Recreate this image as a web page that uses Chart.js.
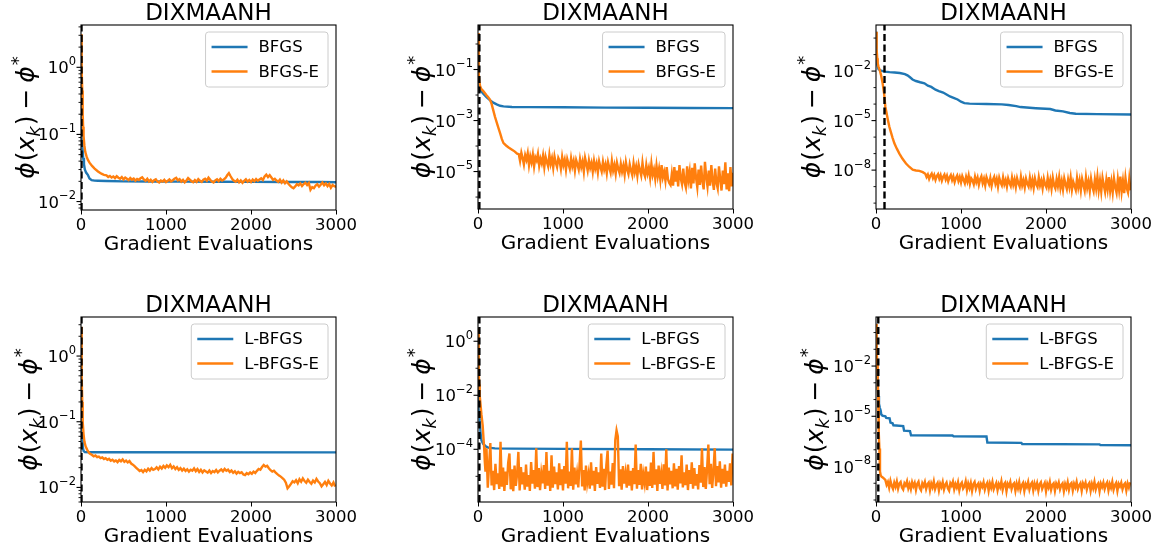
<!DOCTYPE html>
<html>
<head>
<meta charset="utf-8">
<script src="https://cdn.jsdelivr.net/npm/chart.js@4.4.0/dist/chart.umd.min.js"></script>
<style>
  body { margin: 0; background: #fff; }
  #figure { position: relative; width: 1161px; height: 553px; }
  #figure canvas { position: absolute; }
</style>
</head>
<body>
<div id="figure">
  <canvas id="c1" width="390" height="276" style="left:0;top:0"></canvas>
  <canvas id="c2" width="380" height="276" style="left:390px;top:0"></canvas>
  <canvas id="c3" width="391" height="276" style="left:770px;top:0"></canvas>
  <canvas id="c4" width="390" height="277" style="left:0;top:276px"></canvas>
  <canvas id="c5" width="380" height="277" style="left:390px;top:276px"></canvas>
  <canvas id="c6" width="391" height="277" style="left:770px;top:276px"></canvas>
</div>
<script>
// ---- top left: BFGS / BFGS-E ----
const tlBlueX = [0, 4, 8, 15, 25, 35, 45, 60, 80, 100, 125, 160, 200, 300, 500, 800, 1200, 1600, 2000, 2400, 2800, 3000];
const tlBlueY = [3.1, 0.5, 0.12, 0.07, 0.045, 0.036, 0.030, 0.027, 0.025, 0.022, 0.0208, 0.0205, 0.0204, 0.0202, 0.0200, 0.0199, 0.0198, 0.0197, 0.0196, 0.0195, 0.0195, 0.0194];
const tlOrangeX = [0, 5, 10, 15, 20, 25, 30, 40, 50, 65, 80, 100, 130, 160, 200, 240, 270];
const tlOrangeY = [3.1, 2.0, 0.9, 0.45, 0.2, 0.13, 0.095, 0.068, 0.055, 0.047, 0.042, 0.038, 0.034, 0.031, 0.028, 0.026, 0.025];
// every 20 evaluations from 300
const tlOrangeTail = [
  .0246, .0232, .0241, .0228, .0236, .0223, .0238, .0226, .0219, .0231,
  .0214, .0227, .0218, .0209, .0224, .0212, .0220, .0205, .0217, .0210,
  .0222, .0229, .0213, .0204, .0218, .0200, .0211, .0196, .0208, .0215,
  .0198, .0192, .0206, .0199, .0211, .0195, .0203, .0214, .0200, .0208,
  .0219, .0226, .0207, .0215, .0198, .0210, .0193, .0206, .0224, .0212,
  .0201, .0194, .0209, .0197, .0215, .0203, .0196, .0212, .0219, .0205,
  .0227, .0211, .0199, .0192, .0207, .0214, .0201, .0218, .0206, .0213,
  .0224, .0246, .0265, .0238, .0216, .0204, .0197, .0211, .0193, .0206,
  .0190, .0203, .0214, .0198, .0209, .0195, .0212, .0201, .0216, .0204,
  .0213, .0222, .0209, .0236, .0252, .0231, .0247, .0228, .0210, .0218,
  .0205, .0197, .0212, .0191, .0206, .0187, .0200, .0184, .0172, .0163,
  .0158, .0168, .0181, .0174, .0186, .0170, .0182, .0191, .0176, .0189,
  .0150, .0164, .0158, .0173, .0181, .0167, .0178, .0192, .0175, .0186,
  .0170, .0183, .0161, .0176, .0169, .0166
];

// ---- top middle ----
const tmBlueX = [0, 6, 12, 25, 45, 70, 100, 140, 180, 220, 260, 300, 400, 600, 1000, 1500, 2000, 2500, 3000];
const tmBlueY = [2.7, 0.3, 0.022, 0.0165, 0.013, 0.0105, 0.0082, 0.0063, 0.0050, 0.0043, 0.0038, 0.0036, 0.0034, 0.00335, 0.0033, 0.0032, 0.00315, 0.0031, 0.00305];
const tmOrangeX = [0, 5, 10, 15, 25, 40, 60, 80, 100, 120, 140, 160, 180, 200, 220, 240, 260, 280, 300, 330, 360, 400, 430, 460];
const tmOrangeY = [2.7, 0.5, 0.08, 0.035, 0.022, 0.017, 0.0145, 0.012, 0.0098, 0.0082, 0.0066, 0.0045, 0.0025, 0.0014, 8.5e-4, 5.2e-4, 3.2e-4, 1.9e-4, 1.3e-4, 1.05e-4, 8.8e-5, 7.2e-5, 6.2e-5, 5.0e-5];
// every 15 evaluations from 480
const tmOrangeTail = [
  4.8e-5, 2.6e-5, 5.5e-5, 3.4e-5, 1.9e-5, 4.4e-5, 2.9e-5, 5.2e-5, 1.8e-5, 3.9e-5,
  2.3e-5, 4.6e-5, 1.6e-5, 3.6e-5, 2.7e-5, 4.9e-5, 1.7e-5, 3.2e-5, 2.1e-5, 4.2e-5,
  1.5e-5, 3.8e-5, 2.4e-5, 1.6e-5, 4.5e-5, 2.0e-5, 3.3e-5, 1.4e-5, 3.9e-5, 2.2e-5,
  1.5e-5, 3.4e-5, 2.6e-5, 1.3e-5, 3.7e-5, 1.8e-5, 2.9e-5, 1.2e-5, 3.1e-5, 2.0e-5,
  1.3e-5, 3.3e-5, 1.6e-5, 2.6e-5, 1.1e-5, 2.8e-5, 1.9e-5, 1.2e-5, 3.0e-5, 1.5e-5,
  2.5e-5, 1.0e-5, 3.4e-5, 2.0e-5, 1.1e-5, 2.7e-5, 1.4e-5, 2.2e-5, 9.8e-6, 2.6e-5,
  1.3e-5, 2.1e-5, 9.2e-6, 2.5e-5, 1.5e-5, 1.0e-5, 2.4e-5, 1.2e-5, 1.9e-5, 8.6e-6,
  2.3e-5, 1.4e-5, 9.0e-6, 2.6e-5, 1.1e-5, 1.8e-5, 8.2e-6, 2.2e-5, 1.3e-5, 8.8e-6,
  2.0e-5, 1.0e-5, 1.7e-5, 7.6e-6, 2.3e-5, 1.2e-5, 8.0e-6, 1.9e-5, 1.1e-5, 7.2e-6,
  2.1e-5, 9.4e-6, 1.6e-5, 6.8e-6, 1.9e-5, 1.1e-5, 7.0e-6, 2.2e-5, 9.0e-6, 6.4e-6,
  1.8e-5, 8.4e-6, 1.4e-5, 5.8e-6, 2.0e-5, 7.4e-6, 1.2e-5, 5.2e-6, 1.7e-5, 6.6e-6,
  1.3e-5, 4.8e-6, 1.8e-5, 6.0e-6, 9.6e-6, 4.4e-6, 1.5e-5, 5.0e-6, 3.6e-6, 3.0e-6,
  8.0e-6, 2.8e-6, 1.5e-5, 4.0e-6, 1.1e-5, 2.6e-6, 1.8e-5, 5.4e-6, 3.2e-6, 1.3e-5,
  3.8e-6, 2.4e-6, 1.6e-5, 4.6e-6, 1.0e-5, 2.2e-6, 1.4e-5, 3.4e-6, 2.1e-5, 5.6e-6,
  2.4e-6, 1.2e-5, 3.0e-6, 1.7e-5, 4.2e-6, 2.0e-6, 2.4e-5, 6.2e-6, 2.6e-6, 1.1e-5,
  2.8e-6, 1.8e-5, 4.4e-6, 1.9e-6, 1.3e-5, 3.6e-6, 2.2e-6, 1.6e-5, 5.0e-6, 1.8e-6,
  1.1e-5, 3.2e-6, 2.3e-5, 2.0e-6, 8.6e-6, 1.7e-6, 1.5e-5, 2.6e-6, 9.0e-6
];

// ---- top right ----
const trBlueX = [0, 4, 8, 15, 30, 60, 100, 160, 220, 280, 340, 370, 400, 430, 470, 520, 570, 610, 650, 700, 740, 790, 830, 870, 920, 960, 1000, 1040, 1100, 1300, 1480, 1560, 1650, 1700, 1880, 2050, 2110, 2200, 2280, 2350, 2600, 3000];
const trBlueY = [2.4, 0.5, 0.08, 0.025, 0.013, 0.0105, 0.0092, 0.0086, 0.0082, 0.0076, 0.0066, 0.0055, 0.0042, 0.0031, 0.0025, 0.0021, 0.0018, 0.0013, 0.0011, 7.5e-4, 6.2e-4, 5.0e-4, 3.8e-4, 2.9e-4, 2.3e-4, 1.9e-4, 1.4e-4, 1.15e-4, 1.07e-4, 1.02e-4, 9.6e-5, 8.8e-5, 7.5e-5, 6.6e-5, 5.6e-5, 5.0e-5, 4.1e-5, 3.6e-5, 2.9e-5, 2.6e-5, 2.45e-5, 2.35e-5];
const trOrangeX = [0, 5, 10, 15, 20, 30, 45, 60, 78, 95, 110, 125, 140, 157, 175, 195, 216, 245, 275, 310, 353, 390, 431, 470, 510, 550];
const trOrangeY = [2.4, 0.8, 0.2, 0.06, 0.03, 0.018, 0.011, 0.0055, 0.0018, 4.5e-4, 7e-5, 2.8e-5, 1.1e-5, 4.2e-6, 2.0e-6, 9e-7, 4.2e-7, 2.0e-7, 1.0e-7, 5e-8, 2.5e-8, 1.6e-8, 1.05e-8, 9.5e-9, 9e-9, 7.5e-9];
// every 15 evaluations from 580
const trOrangeTail = [
  6.0e-9, 3.8e-9, 5.4e-9, 2.9e-9, 4.7e-9, 6.2e-9, 3.3e-9, 5.1e-9, 2.6e-9, 4.4e-9,
  5.7e-9, 3.0e-9, 4.9e-9, 2.3e-9, 3.9e-9, 5.3e-9, 2.7e-9, 4.5e-9, 2.1e-9, 3.6e-9,
  5.0e-9, 2.5e-9, 4.2e-9, 1.9e-9, 3.4e-9, 4.8e-9, 2.2e-9, 3.8e-9, 1.8e-9, 4.3e-9,
  2.6e-9, 1.6e-9, 3.9e-9, 2.0e-9, 4.6e-9, 1.5e-9, 3.2e-9, 2.4e-9, 1.4e-9, 4.0e-9,
  1.9e-9, 3.5e-9, 1.3e-9, 2.8e-9, 4.2e-9, 1.6e-9, 3.0e-9, 1.2e-9, 3.7e-9, 2.2e-9,
  1.4e-9, 3.3e-9, 1.1e-9, 2.6e-9, 3.9e-9, 1.5e-9, 2.9e-9, 1.0e-9, 3.4e-9, 1.8e-9,
  1.2e-9, 3.6e-9, 1.4e-9, 2.5e-9, 1.0e-9, 3.1e-9, 1.7e-9, 1.1e-9, 3.5e-9, 1.3e-9,
  2.7e-9, 9.5e-10, 3.2e-9, 1.6e-9, 1.0e-9, 3.8e-9, 1.2e-9, 2.4e-9, 9.0e-10, 3.0e-9,
  1.5e-9, 1.0e-9, 3.4e-9, 1.1e-9, 2.6e-9, 8.5e-10, 3.1e-9, 1.4e-9, 9.5e-10, 3.6e-9,
  1.2e-9, 2.3e-9, 8.0e-10, 2.9e-9, 1.3e-9, 8.8e-10, 3.3e-9, 1.0e-9, 2.5e-9, 7.5e-10,
  3.4e-9, 1.2e-9, 7.8e-10, 2.8e-9, 1.1e-9, 3.7e-9, 8.2e-10, 2.2e-9, 6.8e-10, 3.1e-9,
  1.4e-9, 7.2e-10, 2.6e-9, 9.5e-10, 3.5e-9, 6.5e-10, 2.0e-9, 1.1e-9, 6.2e-10, 3.2e-9,
  9.0e-10, 2.4e-9, 6.0e-10, 2.9e-9, 1.3e-9, 5.8e-10, 3.6e-9, 8.5e-10, 2.1e-9, 5.5e-10,
  3.0e-9, 1.0e-9, 5.2e-10, 2.7e-9, 7.8e-10, 3.9e-9, 6.0e-10, 2.3e-9, 5.0e-10, 3.3e-9,
  1.2e-9, 4.8e-10, 2.5e-9, 7.0e-10, 3.7e-9, 5.4e-10, 2.0e-9, 4.5e-10, 3.1e-9, 9.0e-10,
  4.2e-10, 2.8e-9, 6.4e-10, 4.0e-9, 5.0e-10, 2.2e-9, 4.0e-10, 3.4e-9, 8.0e-10, 4.4e-10,
  3.0e-9, 6.0e-10
];

// ---- bottom left: L-BFGS / L-BFGS-E ----
const blBlueX = [0, 4, 8, 14, 20, 30, 45, 100, 3000];
const blBlueY = [2.8, 0.6, 0.12, 0.062, 0.042, 0.036, 0.0345, 0.0344, 0.0342];
const blOrangeX = [0, 5, 10, 15, 20, 30, 40, 55, 75, 100];
const blOrangeY = [2.8, 1.2, 0.5, 0.2, 0.1, 0.065, 0.05, 0.042, 0.037, 0.033];
// every 20 evaluations from 130
const blOrangeTail = [
  .0312, .0298, .0306, .0289, .0295, .0280, .0286, .0271, .0279, .0263,
  .0272, .0255, .0264, .0249, .0258, .0243, .0262, .0250, .0267, .0245,
  .0256, .0240, .0252, .0231, .0222, .0211, .0199, .0188, .0178, .0184,
  .0171, .0186, .0176, .0193, .0181, .0197, .0185, .0190, .0202, .0188,
  .0207, .0194, .0212, .0199, .0216, .0203, .0221, .0196, .0209, .0190,
  .0203, .0185, .0197, .0181, .0193, .0178, .0189, .0174, .0186, .0180,
  .0195, .0177, .0190, .0172, .0185, .0169, .0182, .0175, .0168, .0181,
  .0166, .0178, .0171, .0184, .0169, .0180, .0188, .0176, .0191, .0179,
  .0186, .0172, .0181, .0167, .0176, .0162, .0173, .0165, .0170, .0157,
  .0154, .0165, .0159, .0169, .0161, .0174, .0166, .0179, .0191, .0186,
  .0204, .0219, .0208, .0214, .0196, .0183, .0174, .0180, .0168, .0159,
  .0152, .0146, .0139, .0131, .0118, .0097, .0104, .0113, .0124, .0119,
  .0129, .0116, .0133, .0122, .0137, .0125, .0118, .0131, .0121, .0114,
  .0127, .0119, .0135, .0123, .0116, .0104, .0112, .0121, .0109, .0126,
  .0115, .0107, .0119, .0103
];

// ---- bottom middle ----
const bmBlueX = [0, 5, 10, 20, 30, 40, 60, 90, 120, 200, 400, 1000, 2000, 3000];
const bmBlueY = [3.0, 0.2, 0.01, 1.2e-3, 4e-4, 2.2e-4, 1.6e-4, 1.3e-4, 1.15e-4, 1.08e-4, 1.06e-4, 1.04e-4, 1.0e-4, 9.7e-5];
const bmOrangeX = [0, 5, 10, 15, 20, 30, 40, 55, 65, 72, 80, 88];
const bmOrangeY = [3.0, 0.5, 0.08, 0.025, 0.01, 4.5e-3, 2.0e-3, 7.7e-4, 2.5e-4, 1.2e-4, 3.5e-5, 1.5e-5];
// every 15 evaluations from 100
const bmOrangeTail = [
  1.1e-4, 3.8e-6, 2.4e-5, 1.7e-4, 4.6e-6, 1.6e-5, 3.1e-6, 2.9e-5, 5.2e-6, 1.3e-5,
  3.4e-6, 1.9e-4, 4.1e-6, 2.1e-5, 2.9e-6, 1.5e-5, 4.8e-6, 3.2e-5, 7.0e-5, 3.3e-6,
  1.8e-5, 2.8e-6, 2.5e-5, 4.4e-6, 1.2e-5, 8.0e-5, 3.0e-6, 2.2e-5, 5.0e-6, 1.4e-5,
  3.2e-6, 2.7e-5, 4.2e-6, 1.1e-5, 2.9e-6, 3.4e-5, 5.4e-6, 1.7e-5, 3.5e-6, 1.1e-4,
  4.0e-6, 2.0e-5, 3.1e-6, 1.3e-5, 5.5e-6, 2.6e-5, 3.4e-6, 8.0e-5, 4.5e-6, 1.6e-5,
  2.9e-6, 6.0e-5, 3.8e-6, 2.3e-5, 5.1e-6, 1.4e-5, 3.3e-6, 3.0e-5, 4.7e-6, 1.8e-5,
  3.0e-6, 2.4e-5, 5.3e-6, 1.9e-4, 3.6e-6, 1.5e-5, 4.4e-6, 1.1e-4, 3.2e-6, 2.1e-5,
  5.0e-6, 1.3e-5, 3.9e-6, 2.8e-5, 2.1e-4, 4.2e-6, 1.7e-5, 3.0e-6, 2.5e-5, 5.6e-6,
  1.2e-5, 3.5e-6, 3.3e-5, 4.6e-6, 1.6e-5, 2.9e-6, 2.2e-5, 5.2e-6, 1.4e-5, 3.7e-6,
  7.0e-5, 4.1e-6, 1.9e-5, 3.1e-6, 2.6e-5, 9.0e-5, 3.4e-6, 1.5e-5, 4.9e-6, 3.1e-5,
  3.6e-6, 2.2e-4, 5.0e-4, 3.0e-4, 4.3e-6, 1.8e-5, 3.2e-6, 2.4e-5, 5.4e-6, 1.3e-5,
  3.8e-6, 2.7e-5, 4.5e-6, 1.6e-5, 3.0e-6, 2.0e-5, 5.1e-6, 1.5e-4, 3.5e-6, 1.7e-5,
  4.8e-6, 2.9e-5, 3.3e-6, 1.2e-5, 5.6e-6, 2.3e-5, 3.1e-6, 1.5e-5, 4.4e-6, 3.2e-5,
  3.7e-6, 8.0e-5, 4.9e-6, 1.8e-5, 2.9e-6, 2.5e-5, 5.3e-6, 1.3e-5, 3.4e-6, 2.8e-5,
  4.6e-6, 1.0e-4, 3.0e-6, 2.1e-5, 5.0e-6, 1.6e-5, 3.6e-6, 3.0e-5, 4.2e-6, 1.9e-5,
  3.2e-6, 2.4e-5, 5.5e-6, 6.0e-5, 3.9e-6, 1.4e-5, 4.7e-6, 2.7e-5, 3.1e-6, 1.7e-5,
  5.2e-6, 3.3e-5, 3.5e-6, 2.0e-5, 4.5e-6, 1.2e-5, 3.3e-6, 2.6e-5, 5.8e-6, 1.1e-4,
  4.0e-6, 2.2e-5, 3.4e-6, 1.8e-5, 1.5e-4, 5.1e-6, 2.9e-5, 3.7e-6, 1.5e-5, 1.1e-4,
  4.3e-6, 2.4e-5, 6.0e-6, 3.6e-5, 3.8e-6, 1.9e-5, 5.4e-6, 2.7e-5, 4.1e-6, 1.6e-5,
  6.2e-6, 3.0e-5, 4.6e-6, 7.0e-5
];

// ---- bottom right ----
const brBlueX = [0, 4, 8, 14, 20, 28, 35, 45, 55, 62, 75, 110, 120, 160, 170, 195, 205, 320, 330, 400, 412, 900, 912, 1300, 1310, 1710, 1720, 2630, 2640, 3000];
const brBlueY = [3.3, 0.3, 0.02, 2.5e-3, 7e-4, 1.6e-4, 5.6e-5, 3.2e-5, 2.2e-5, 1.3e-5, 1.1e-5, 1.0e-5, 8.0e-6, 7.5e-6, 4.2e-6, 3.8e-6, 2.9e-6, 2.6e-6, 1.4e-6, 1.3e-6, 7.4e-7, 7.1e-7, 6.4e-7, 6.2e-7, 2.7e-7, 2.6e-7, 2.2e-7, 2.1e-7, 1.9e-7, 1.85e-7];
const brOrangeX = [0, 5, 10, 15, 20, 25, 30, 35, 40, 47, 55, 67, 80, 95];
const brOrangeY = [3.3, 0.8, 0.1, 0.012, 1.7e-3, 1.5e-4, 1.2e-5, 1.0e-6, 1.2e-7, 5e-9, 3.0e-9, 2.4e-9, 2.2e-9, 1.9e-9];
// every 15 evaluations from 110
const brOrangeTail = [
  1.6e-9, 8.0e-10, 1.2e-9, 5.4e-10, 1.4e-9, 7.0e-10, 4.6e-10, 1.1e-9, 6.2e-10, 1.3e-9,
  4.8e-10, 9.6e-10, 1.2e-9, 5.6e-10, 4.2e-10, 1.0e-9, 7.4e-10, 1.3e-9, 5.0e-10, 8.8e-10,
  4.4e-10, 1.15e-9, 6.6e-10, 1.05e-9, 4.0e-10, 9.2e-10, 1.25e-9, 5.2e-10, 3.8e-10, 1.0e-9,
  6.8e-10, 1.2e-9, 4.6e-10, 8.6e-10, 1.1e-9, 3.9e-10, 9.8e-10, 5.8e-10, 1.3e-9, 4.5e-10,
  7.6e-10, 1.05e-9, 3.7e-10, 9.4e-10, 6.0e-10, 1.2e-9, 4.3e-10, 8.2e-10, 1.1e-9, 5.0e-10,
  3.6e-10, 1.0e-9, 7.2e-10, 1.25e-9, 4.4e-10, 9.0e-10, 5.6e-10, 1.15e-9, 3.8e-10, 8.4e-10,
  1.1e-9, 4.8e-10, 6.4e-10, 1.3e-9, 4.0e-10, 9.6e-10, 5.2e-10, 1.05e-9, 3.5e-10, 8.8e-10,
  1.2e-9, 4.6e-10, 7.8e-10, 1.0e-9, 3.7e-10, 9.2e-10, 6.2e-10, 1.15e-9, 4.2e-10, 8.0e-10,
  1.1e-9, 3.6e-10, 9.8e-10, 5.4e-10, 1.2e-9, 4.4e-10, 7.0e-10, 1.05e-9, 3.9e-10, 9.0e-10,
  5.8e-10, 1.3e-9, 4.1e-10, 8.6e-10, 1.1e-9, 3.4e-10, 9.4e-10, 6.6e-10, 1.2e-9, 4.5e-10,
  8.2e-10, 1.0e-9, 3.6e-10, 9.6e-10, 5.0e-10, 1.15e-9, 4.0e-10, 7.6e-10, 1.05e-9, 3.5e-10,
  9.0e-10, 6.0e-10, 1.2e-9, 4.3e-10, 8.4e-10, 1.1e-9, 3.8e-10, 9.8e-10, 5.4e-10, 1.0e-9,
  3.6e-10, 8.8e-10, 1.15e-9, 4.6e-10, 7.2e-10, 1.05e-9, 3.3e-10, 9.2e-10, 5.6e-10, 1.2e-9,
  4.1e-10, 8.0e-10, 1.0e-9, 3.6e-10, 9.6e-10, 6.2e-10, 1.1e-9, 4.4e-10, 7.8e-10, 1.0e-9,
  3.4e-10, 9.0e-10, 5.2e-10, 1.15e-9, 4.0e-10, 8.6e-10, 1.05e-9, 3.7e-10, 9.4e-10, 5.8e-10,
  1.2e-9, 4.5e-10, 7.4e-10, 1.0e-9, 3.5e-10, 9.8e-10, 6.4e-10, 1.1e-9, 4.2e-10, 8.2e-10,
  1.05e-9, 3.6e-10, 9.2e-10, 5.0e-10, 1.2e-9, 4.3e-10, 7.8e-10, 1.0e-9, 3.4e-10, 9.6e-10,
  6.0e-10, 1.1e-9, 4.6e-10, 8.4e-10, 1.15e-9, 3.8e-10, 9.0e-10, 5.4e-10, 1.2e-9, 4.1e-10,
  7.6e-10, 1.05e-9, 3.5e-10, 9.4e-10, 6.6e-10, 1.1e-9, 4.4e-10, 8.0e-10, 1.0e-9, 3.7e-10,
  9.8e-10, 5.6e-10, 1.15e-9
];

const FONT = '"DejaVu Sans", sans-serif';
const BLUE = '#1f77b4';
const ORANGE = '#ff7f0e';

function toPoints(xs, ys) {
  return xs.map((x, i) => ({ x: x, y: ys[i] }));
}
function tailPoints(start, step, ys) {
  return ys.map((y, i) => ({ x: start + i * step, y: y }));
}

function drawYLabel(ctx, cx, cy) {
  const s = 25;
  const up = s + 'px ' + FONT, it = 'italic ' + s + 'px ' + FONT;
  const small = Math.round(s * 0.7) + 'px ' + FONT, smallIt = 'italic ' + small;
  const parts = [
    { t: '\u03d5', f: it, dy: 0, gap: 0 },
    { t: '(', f: up, dy: 0, gap: 1 },
    { t: 'x', f: it, dy: 0, gap: 0 },
    { t: 'k', f: smallIt, dy: s * 0.22, gap: 0 },
    { t: ')', f: up, dy: 0, gap: 1 },
    { t: '\u2212', f: up, dy: 0, gap: s * 0.24 },
    { t: '\u03d5', f: it, dy: 0, gap: s * 0.24 },
    { t: '*', f: small, dy: -s * 0.42, gap: 1 }
  ];
  let total = 0;
  parts.forEach(p => { ctx.font = p.f; p.w = ctx.measureText(p.t).width; total += p.gap + p.w; });
  ctx.save();
  ctx.translate(cx, cy);
  ctx.rotate(-Math.PI / 2);
  ctx.textBaseline = 'alphabetic';
  ctx.textAlign = 'left';
  let x = -total / 2;
  parts.forEach(p => {
    x += p.gap;
    ctx.font = p.f;
    ctx.fillText(p.t, x, s * 0.32 + p.dy);
    x += p.w;
  });
  ctx.restore();
}

function drawLegend(ctx, area, items) {
  ctx.font = '16.5px ' + FONT;
  const tw = Math.max(...items.map(it => ctx.measureText(it.label).width));
  const w = 6 + 36 + 11 + tw + 9, h = 55;
  const x = area.right - 8 - w, y = area.top + 7, r = 3;
  ctx.beginPath();
  ctx.moveTo(x + r, y);
  ctx.lineTo(x + w - r, y); ctx.quadraticCurveTo(x + w, y, x + w, y + r);
  ctx.lineTo(x + w, y + h - r); ctx.quadraticCurveTo(x + w, y + h, x + w - r, y + h);
  ctx.lineTo(x + r, y + h); ctx.quadraticCurveTo(x, y + h, x, y + h - r);
  ctx.lineTo(x, y + r); ctx.quadraticCurveTo(x, y, x + r, y);
  ctx.closePath();
  ctx.fillStyle = 'rgba(255,255,255,0.8)';
  ctx.fill();
  ctx.strokeStyle = '#cccccc';
  ctx.lineWidth = 1;
  ctx.stroke();
  items.forEach((it, i) => {
    const ry = y + 15 + i * 24.5;
    ctx.strokeStyle = it.color;
    ctx.lineWidth = 2.4;
    ctx.beginPath(); ctx.moveTo(x + 6, ry); ctx.lineTo(x + 42, ry); ctx.stroke();
    ctx.fillStyle = '#000';
    ctx.textBaseline = 'middle';
    ctx.textAlign = 'left';
    ctx.fillText(it.label, x + 53, ry + 1);
  });
}

const decor = {
  id: 'decor',
  afterDraw(chart, args, opts) {
    const p = opts.panel;
    const ctx = chart.ctx;
    const area = chart.chartArea;
    const ys = chart.scales.y;
    ctx.save();

    // axes box
    ctx.strokeStyle = '#000';
    ctx.lineWidth = 1.1;
    ctx.strokeRect(area.left, area.top, area.right - area.left, area.bottom - area.top);

    // log ticks on the y axis
    const lo = Math.floor(Math.log10(p.yRange[0])), hi = Math.ceil(Math.log10(p.yRange[1]));
    ctx.lineWidth = 0.9;
    for (let d = lo; d <= hi; d++) {
      const minors = p.subs ? [2, 3, 4, 5, 6, 7, 8, 9].map(m => m * Math.pow(10, d))
                            : (p.major.includes(d) ? [] : [Math.pow(10, d)]);
      minors.forEach(v => {
        if (v < p.yRange[0] || v > p.yRange[1]) return;
        const py = ys.getPixelForValue(v);
        ctx.beginPath(); ctx.moveTo(area.left - 2.5, py); ctx.lineTo(area.left, py); ctx.stroke();
      });
    }
    ctx.lineWidth = 1.1;
    ctx.fillStyle = '#000';
    ctx.textBaseline = 'alphabetic';
    ctx.textAlign = 'left';
    p.major.forEach(d => {
      const py = ys.getPixelForValue(Math.pow(10, d));
      ctx.beginPath(); ctx.moveTo(area.left - 4.5, py); ctx.lineTo(area.left, py); ctx.stroke();
      const ex = d === 0 ? '0' : '\u2212' + (-d);
      ctx.font = '11.5px ' + FONT;
      const we = ctx.measureText(ex).width;
      ctx.font = '16.5px ' + FONT;
      const wb = ctx.measureText('10').width;
      const right = area.left - 5;
      ctx.fillText('10', right - we - wb, py + 6);
      ctx.font = '11.5px ' + FONT;
      ctx.fillText(ex, right - we, py - 2.5);
    });

    // legend
    const ds = chart.data.datasets;
    drawLegend(ctx, area, [{ label: ds[0].label, color: ds[0].borderColor }, { label: ds[1].label, color: ds[1].borderColor }]);

    // titles
    const cxm = (area.left + area.right) / 2;
    ctx.fillStyle = '#000';
    ctx.textAlign = 'center';
    ctx.textBaseline = 'alphabetic';
    ctx.font = '23px ' + FONT;
    ctx.fillText(p.title, cxm, area.top - 5);
    ctx.font = '20px ' + FONT;
    ctx.fillText('Gradient Evaluations', cxm, area.bottom + 40);
    drawYLabel(ctx, area.left - p.labelGap, (area.top + area.bottom) / 2);
    ctx.restore();
  }
};

const panels = [
  { id: 'c1', frame: [81, 25, 336, 210], yRange: [7.48e-3, 4.27], major: [0, -1, -2], subs: true, vline: 6, labelGap: 55,
    names: ['BFGS', 'BFGS-E'], blue: toPoints(tlBlueX, tlBlueY),
    orange: toPoints(tlOrangeX, tlOrangeY).concat(tailPoints(300, 20, tlOrangeTail)) },
  { id: 'c2', frame: [88, 25, 343, 209], yRange: [3.4e-7, 5.56], major: [-1, -3, -5], subs: false, vline: 16, labelGap: 56,
    names: ['BFGS', 'BFGS-E'], blue: toPoints(tmBlueX, tmBlueY),
    orange: toPoints(tmOrangeX, tmOrangeY).concat(tailPoints(480, 15, tmOrangeTail)) },
  { id: 'c3', frame: [106, 25, 361, 209], yRange: [4.4e-11, 6.2], major: [-2, -5, -8], subs: false, vline: 100, labelGap: 64,
    names: ['BFGS', 'BFGS-E'], blue: toPoints(trBlueX, trBlueY),
    orange: toPoints(trOrangeX, trOrangeY).concat(tailPoints(580, 15, trOrangeTail)) },
  { id: 'c4', frame: [81, 41, 336, 226], yRange: [6.0e-3, 3.93], major: [0, -1, -2], subs: true, vline: 6, labelGap: 52,
    names: ['L-BFGS', 'L-BFGS-E'], blue: toPoints(blBlueX, blBlueY),
    orange: toPoints(blOrangeX, blOrangeY).concat(tailPoints(130, 20, blOrangeTail)) },
  { id: 'c5', frame: [88, 41, 343, 226], yRange: [1.12e-6, 7.9], major: [0, -2, -4], subs: false, vline: 16, labelGap: 56,
    names: ['L-BFGS', 'L-BFGS-E'], blue: toPoints(bmBlueX, bmBlueY),
    orange: toPoints(bmOrangeX, bmOrangeY).concat(tailPoints(100, 15, bmOrangeTail)) },
  { id: 'c6', frame: [106, 41, 361, 226], yRange: [7.6e-11, 8.5], major: [-2, -5, -8], subs: false, vline: 27, labelGap: 61,
    names: ['L-BFGS', 'L-BFGS-E'], blue: toPoints(brBlueX, brBlueY),
    orange: toPoints(brOrangeX, brOrangeY).concat(tailPoints(110, 15, brOrangeTail)) }
];

panels.forEach(p => {
  p.title = 'DIXMAANH';
  const canvas = document.getElementById(p.id);
  const W = canvas.width, H = canvas.height;
  const [fl, ft, fr, fb] = p.frame;
  new Chart(canvas, {
    type: 'line',
    data: {
      datasets: [
        { label: p.names[0], data: p.blue, borderColor: BLUE, order: 2 },
        { label: p.names[1], data: p.orange, borderColor: ORANGE, order: 1 },
        { label: 'start', data: [{ x: p.vline, y: p.yRange[0] }, { x: p.vline, y: p.yRange[1] }],
          borderColor: '#000', borderWidth: 2.4, borderDash: [7, 3.5], order: 0 }
      ]
    },
    options: {
      responsive: false,
      animation: false,
      events: [],
      layout: { padding: { left: 0, top: ft, right: W - fr, bottom: 0 } },
      elements: { point: { radius: 0 }, line: { borderWidth: 2.4, tension: 0, fill: false } },
      plugins: { legend: { display: false }, tooltip: { enabled: false }, decor: { panel: p } },
      scales: {
        x: {
          type: 'linear', min: 0, max: 3000,
          afterFit: s => { s.height = H - fb; },
          ticks: { stepSize: 1000, color: '#000', font: { family: FONT, size: 16.5 }, padding: 1, maxRotation: 0, autoSkip: false,
                   callback: v => String(v) },
          grid: { drawOnChartArea: false, drawTicks: true, tickLength: 4.5, color: '#000', lineWidth: 1 },
          border: { display: false }
        },
        y: {
          type: 'logarithmic', min: p.yRange[0], max: p.yRange[1],
          afterFit: s => { s.width = fl; },
          ticks: { display: false },
          grid: { display: false },
          border: { display: false }
        }
      }
    },
    plugins: [decor]
  });
});
</script>
</body>
</html>
